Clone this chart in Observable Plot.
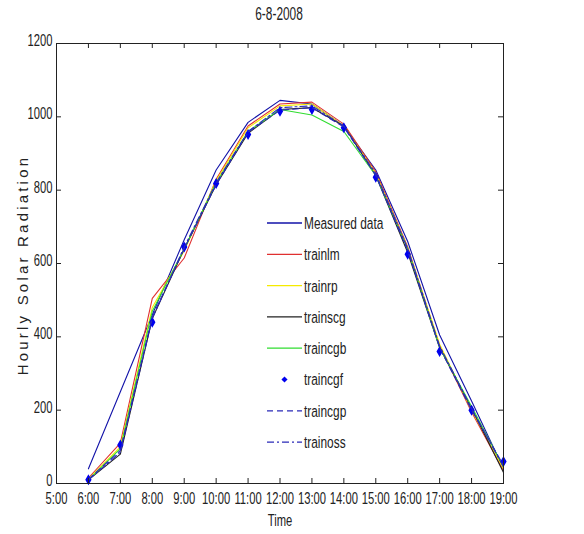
<!DOCTYPE html>
<html><head><meta charset="utf-8">
<script src="https://cdn.jsdelivr.net/npm/d3@7"></script>
<script src="https://cdn.jsdelivr.net/npm/@observablehq/plot@0.6"></script>
<style>
body{margin:0;background:#fff;}
#wrap{position:relative;width:584px;height:534px;font-family:"Liberation Sans",sans-serif;}
#title{position:absolute;left:0;top:0;width:559px;height:30px;text-align:center;font-size:18px;line-height:28px;color:#222;}
#title span{display:inline-block;transform:scaleX(0.66);}
#chart{position:absolute;left:0;top:30px;}
#ylab{position:absolute;left:22px;top:265px;transform:translate(-50%,-50%) rotate(-90deg);white-space:nowrap;font-family:"Liberation Sans",Arial,sans-serif;font-size:15px;letter-spacing:3.2px;color:#222;}
#legend{position:absolute;left:0;top:0;}
</style></head><body>
<div id="wrap">
<div id="title"><span>6-8-2008</span></div>
<div id="chart"></div>
<div id="ylab">Hourly Solar Radiation</div>
<svg id="legend" width="584" height="534"></svg>
</div>
<script>
const hours = [6,7,8,9,10,11,12,13,14,15,16,17,18,19];
const xTickHours = [5,6,7,8,9,10,11,12,13,14,15,16,17,18,19];
const yTicks = [0,200,400,600,800,1000,1200];

const measured = [40, 250, 460, 665, 855, 985, 1045, 1035, 975, 855, 660, 405, 225, 40];
const trainlm  = [15, 110, 505, 615, 830, 975, 1035, 1040, 980, 850, 645, 375, 195, 35];
const trainrp  = [12, 100, 480, 635, 825, 970, 1030, 1035, 975, 845, 640, 380, 200, 40];
const trainscg = [10, 80, 450, 640, 815, 955, 1020, 1025, 975, 840, 630, 370, 205, 30];
const traincgb = [10, 95, 470, 640, 820, 960, 1020, 1005, 960, 840, 640, 370, 210, 45];
const traincgf = [10, 105, 440, 645, 818, 952, 1015, 1020, 970, 835, 625, 360, 200, 60];
const traincgp = [12, 90, 455, 640, 815, 958, 1018, 1025, 972, 840, 635, 370, 200, 50];
const trainoss = [10, 85, 450, 645, 820, 960, 1025, 1030, 975, 845, 640, 375, 205, 45];

const series = [
  {name:"Measured data", values:measured, stroke:"#1212a8", dash:null, kind:"line"},
  {name:"trainlm", values:trainlm, stroke:"#e03030", dash:null, kind:"line"},
  {name:"trainrp", values:trainrp, stroke:"#f5ea00", dash:null, kind:"line"},
  {name:"trainscg", values:trainscg, stroke:"#222222", dash:null, kind:"line"},
  {name:"traincgb", values:traincgb, stroke:"#30dd30", dash:null, kind:"line"},
  {name:"traincgf", values:traincgf, stroke:"#0000ee", dash:null, kind:"dot"},
  {name:"traincgp", values:traincgp, stroke:"#2a2ab8", dash:"6,4", kind:"line"},
  {name:"trainoss", values:trainoss, stroke:"#2a2ab8", dash:"7,3,2,3", kind:"line"}
];

const W = 584, H = 504, mL = 56, mR = 81, mT = 13, mB = 51;
const plotW = W - mL - mR, plotH = H - mT - mB;
const FONT = '"Liberation Sans",sans-serif';

const marks = [];
for (const s of series) {
  const rows = hours.map((h, i) => ({hour: h, value: s.values[i]}));
  if (s.kind === "line") {
    marks.push(Plot.line(rows, {x:"hour", y:"value", stroke:s.stroke, strokeWidth:1.1, strokeDasharray:s.dash}));
  } else {
    marks.push(Plot.dot(rows, {x:"hour", y:"value", symbol:"diamond", r:2.4, fill:s.stroke, stroke:s.stroke}));
  }
}

const chart = Plot.plot({
  width: W, height: H,
  marginLeft: mL, marginRight: mR, marginTop: mT, marginBottom: mB,
  style: {fontFamily: FONT, fontSize: "17px", color:"#222", background:"#fff"},
  x: {domain: [5, 19]},
  y: {domain: [0, 1200]},
  marks: [
    ...marks,
    Plot.frame({stroke:"#222", strokeWidth:1}),
    Plot.ruleX(xTickHours, {x: d => d, insetTop: plotH - 5, stroke:"#222"}),
    Plot.ruleX(xTickHours, {x: d => d, insetBottom: plotH - 5, stroke:"#222"}),
    Plot.ruleY(yTicks, {y: d => d, insetRight: plotW - 5, stroke:"#222"}),
    Plot.ruleY(yTicks, {y: d => d, insetLeft: plotW - 5, stroke:"#222"}),
    Plot.axisX(xTickHours, {tickSize:0, tickPadding:8, tickFormat: d => `${d}:00`, label:"Time", labelAnchor:"center", labelArrow:"none", labelOffset:42, fontSize:17}),
    Plot.axisY(yTicks, {tickSize:0, tickPadding:4, dy:-3, tickFormat: d => String(d), label:null, fontSize:17})
  ]
});
document.getElementById("chart").appendChild(chart);

// narrow the text horizontally (MATLAB-like condensed look)
function narrow(el, sx) {
  const t = el.getAttribute("transform");
  if (t) {
    el.setAttribute("transform", t + ` scale(${sx},1)`);
  } else {
    const x = +(el.getAttribute("x") || 0), y = +(el.getAttribute("y") || 0);
    el.setAttribute("x", 0); el.setAttribute("y", 0);
    el.setAttribute("transform", `translate(${x},${y}) scale(${sx},1)`);
  }
}
chart.querySelectorAll("text").forEach(el => narrow(el, 0.66));

// legend
const lg = d3.select("#legend");
const ly0 = 223, lstep = 31.3, lx1 = 267, lx2 = 302, ltx = 304;
series.forEach((s, i) => {
  const y = ly0 + i * lstep;
  if (s.kind === "line") {
    lg.append("line").attr("x1", lx1).attr("x2", lx2).attr("y1", y).attr("y2", y)
      .attr("stroke", s.stroke).attr("stroke-width", 1.3).attr("stroke-dasharray", s.dash);
  } else {
    const cx = (lx1 + lx2) / 2;
    lg.append("path").attr("d", d3.symbol(d3.symbolDiamond2, 24)()).attr("transform", `translate(${cx},${y})`)
      .attr("fill", s.stroke);
  }
  lg.append("text").attr("transform", `translate(${ltx},${y}) scale(0.7,1)`).attr("dy", "0.35em")
    .attr("font-size", 17).attr("fill", "#222")
    .attr("font-family", FONT)
    .text(s.name);
});
</script>
</body></html>
